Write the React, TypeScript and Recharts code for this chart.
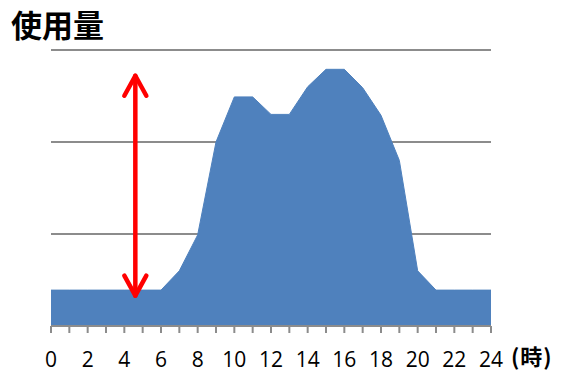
import React from "react";
import { AreaChart, Area, XAxis, YAxis, CartesianGrid, ReferenceLine } from "recharts";

// hourly usage, 0h..24h
const HOURS = [0, 1, 2, 3, 4, 5, 6, 7, 8, 9, 10, 11, 12, 13, 14, 15, 16, 17, 18, 19, 20, 21, 22, 23, 24];
const USAGE = [
  0.39, 0.39, 0.39, 0.39, 0.39, 0.39, 0.39, 0.6, 0.99, 2.0, 2.49, 2.49, 2.3,
  2.3, 2.6, 2.79, 2.79, 2.59, 2.29, 1.8, 0.6, 0.39, 0.39, 0.39, 0.39,
];
const Y_TICKS = [0, 1, 2, 3];

// double arrow showing the gap between base load and peak
const ARROW_HOUR = 4.6;
const ARROW_FROM = 0.33;
const ARROW_TO = 2.72;

const data = HOURS.map((h, i) => ({ hour: h, usage: USAGE[i] }));

const GRAY = "#8c8c8c";
const FONT = "'Open Sans', 'Noto Sans CJK JP', sans-serif";

const DoubleArrow = (props: any) => {
  const { x1, y1, x2, y2 } = props;
  const x = (x1 + x2) / 2;
  const top = Math.min(y1, y2);
  const bottom = Math.max(y1, y2);
  const hw = 11;
  const hl = 20;
  return (
    <g stroke="#ff0000" strokeWidth={4.5} fill="none" strokeLinecap="round" strokeLinejoin="round">
      <line x1={x} y1={top} x2={x} y2={bottom} />
      <polyline points={`${x - hw},${top + hl} ${x},${top} ${x + hw},${top + hl}`} />
      <polyline points={`${x - hw},${bottom - hl} ${x},${bottom} ${x + hw},${bottom - hl}`} />
    </g>
  );
};

export default function App() {
  return (
    <div style={{ position: "absolute", left: 0, top: 0, width: 563, height: 376, background: "#fff", fontFamily: FONT }}>
      <div
        style={{
          position: "absolute",
          left: 11,
          top: 8,
          fontSize: 31,
          fontWeight: 700,
          lineHeight: 1,
          fontFamily: "'Noto Sans CJK JP', sans-serif",
          color: "#000",
        }}
      >
        使用量
      </div>
      <AreaChart width={563} height={376} data={data} margin={{ top: 50, right: 72, left: 51, bottom: 10 }}>
        <CartesianGrid vertical={false} stroke={GRAY} strokeWidth={2} strokeDasharray="" />
        <XAxis
          dataKey="hour"
          type="number"
          domain={[0, 24]}
          ticks={HOURS}
          interval={0}
          height={40}
          tickSize={7}
          tickMargin={19}
          tickFormatter={(v: number) => (v % 2 === 0 ? String(v) : "")}
          tick={{ fill: "#000", fontSize: 21, fontFamily: FONT }}
          axisLine={{ stroke: GRAY, strokeWidth: 2 }}
          tickLine={{ stroke: GRAY, strokeWidth: 2 }}
        />
        <YAxis hide domain={[0, 3]} ticks={Y_TICKS} />
        <Area
          type="linear"
          dataKey="usage"
          stroke="#4f81bd"
          strokeWidth={1}
          fill="#4f81bd"
          fillOpacity={1}
          isAnimationActive={false}
        />
        <ReferenceLine
          segment={[
            { x: ARROW_HOUR, y: ARROW_FROM },
            { x: ARROW_HOUR, y: ARROW_TO },
          ]}
          shape={DoubleArrow}
        />
      </AreaChart>
      <div
        style={{
          position: "absolute",
          left: 511,
          top: 344,
          fontSize: 22,
          fontWeight: 700,
          lineHeight: 1,
          letterSpacing: 1,
          fontFamily: "'Noto Sans CJK JP', sans-serif",
          color: "#000",
        }}
      >
        (時)
      </div>
    </div>
  );
}
